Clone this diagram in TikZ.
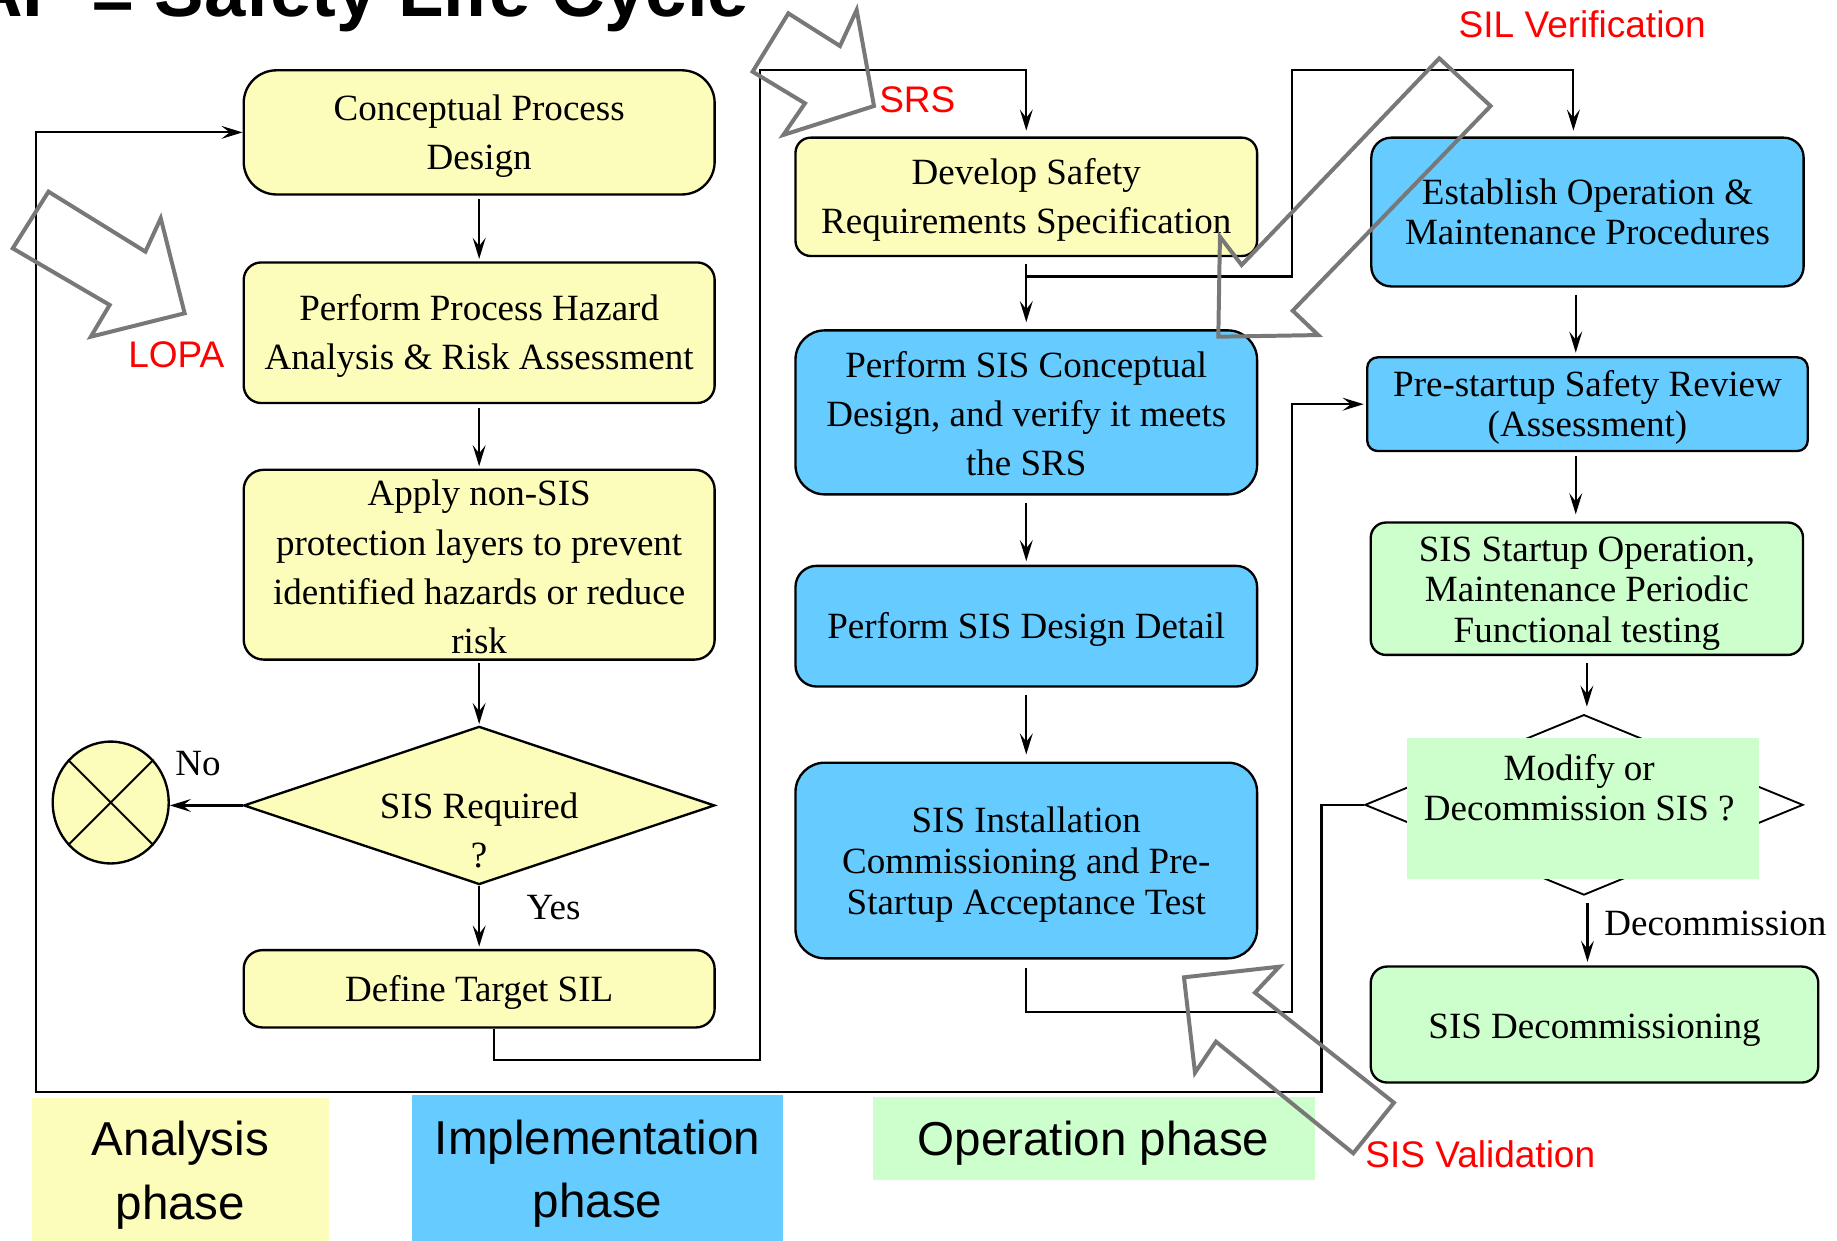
\documentclass[tikz,border=0pt]{standalone}
\usepackage{fontspec}
\setmainfont{Liberation Serif}
\newfontfamily\sansfont{Liberation Sans}
\usetikzlibrary{shapes.geometric,arrows.meta,calc}

\definecolor{phaseYellow}{RGB}{252,252,187}
\definecolor{phaseBlue}{RGB}{102,204,255}
\definecolor{phaseGreen}{RGB}{204,255,204}
\definecolor{hintGray}{RGB}{120,120,120}
\definecolor{hintRed}{RGB}{255,0,0}

% invisible rule that lowers the first line of a box text a little
\newcommand\boxstrut{\rule{0pt}{14pt}}
\newcommand\phasestrut{\rule{0pt}{19.8pt}}

\tikzset{
  box/.style={draw=black, line width=1pt, inner sep=0pt, align=center},
  txtA/.style={font=\fontsize{15.8pt}{21pt}\selectfont},
  txtB/.style={font=\fontsize{15.8pt}{17pt}\selectfont},
  arr/.style={line width=0.9pt, -{Stealth[length=9pt,width=5.5pt,inset=3.5pt]}},
  hint/.style={draw=hintGray, line width=1.7pt, line join=miter},
  redlbl/.style={font=\sansfont\fontsize{15.8pt}{18pt}\selectfont, text=hintRed, inner sep=0pt},
  phase/.style={inner sep=0pt, align=center, font=\sansfont\fontsize{20.3pt}{27.5pt}\selectfont},
  plain/.style={inner sep=0pt, font=\fontsize{15.8pt}{18pt}\selectfont}
}

\begin{document}
\begin{tikzpicture}[x=0.5pt,y=-0.5pt]
\useasboundingbox (0,0) rectangle (1568,1059);
\clip (0,0) rectangle (1568,1059);
\fill[white] (0,0) rectangle (1568,1059);

% title (runs off the top edge)
\node[anchor=base east, inner sep=0pt, font=\sansfont\bfseries\fontsize{31.7pt}{36pt}\selectfont] (title) at (640,14.5) {AP \raisebox{-4pt}{–} Safety Life Cycle};

% phase legend
\node[phase, fill=phaseYellow, minimum width=127pt, minimum height=61pt] (anaPh) at (154,998) {\phasestrut Analysis\\phase};
\node[phase, fill=phaseBlue, minimum width=158pt, minimum height=62.25pt, font=\sansfont\fontsize{20.3pt}{27pt}\selectfont] (impPh) at (510,996.75) {\phasestrut Implementation\\phase};
\node[phase, fill=phaseGreen, minimum width=188.5pt, minimum height=35.25pt] (opPh) at (933.5,971.75) {\rule{0pt}{18.8pt}Operation phase};

% analysis column
\node[box, txtA, fill=phaseYellow, rounded corners=14pt, minimum width=201pt, minimum height=53pt] (cpd) at (409,113) {\boxstrut Conceptual Process\\Design};
\node[box, txtA, fill=phaseYellow, rounded corners=7.5pt, minimum width=201pt, minimum height=60pt] (haz) at (409,284) {\boxstrut Perform Process Hazard\\Analysis \& Risk Assessment};
\node[box, txtA, fill=phaseYellow, rounded corners=8.5pt, minimum width=201pt, minimum height=81pt] (apl) at (409,482) {\rule{0pt}{13pt}Apply non-SIS\\protection layers to prevent\\identified hazards or reduce\\risk};
\node[diamond, draw=black, fill=phaseYellow, line width=1pt, inner sep=0pt, minimum width=201pt, minimum height=67.5pt] (req) at (409,687.5) {};
\node[txtA, align=center, inner sep=0pt] (reqtxt) at (409,708.5) {SIS Required\\?};
\node[ellipse, draw=black, fill=phaseYellow, line width=1pt, inner sep=0pt, minimum width=49.5pt, minimum height=52pt] (stop) at (94.5,685) {};
\draw[line width=0.8pt] (stop.45) -- (stop.-135) (stop.135) -- (stop.-45);
\node[box, txtA, fill=phaseYellow, rounded corners=8pt, minimum width=201pt, minimum height=33pt] (sil) at (409,844) {\boxstrut Define Target SIL};

% implementation column
\node[box, txtA, fill=phaseYellow, rounded corners=6.5pt, minimum width=197pt, minimum height=50.5pt] (srs) at (876,168) {\boxstrut Develop Safety\\Requirements Specification};
\node[box, txtA, fill=phaseBlue, rounded corners=12.5pt, minimum width=197pt, minimum height=70pt] (scd) at (876,352) {\rule{0pt}{12pt}Perform SIS Conceptual\\Design, and verify it meets\\the SRS};
\node[box, txtA, fill=phaseBlue, rounded corners=9pt, minimum width=197pt, minimum height=51.5pt] (sdd) at (876,534.5) {\boxstrut Perform SIS Design Detail};
\node[box, fill=phaseBlue, rounded corners=12.5pt, minimum width=197pt, minimum height=83.5pt, font=\fontsize{15.8pt}{17.5pt}\selectfont] (sit) at (876,734.5) {\rule{0pt}{14.5pt}SIS Installation\\Commissioning and Pre-\\Startup Acceptance Test};

% operation column
\node[box, txtB, fill=phaseBlue, rounded corners=8.5pt, minimum width=184.5pt, minimum height=63.5pt] (eom) at (1355,181) {Establish Operation \&\\Maintenance Procedures};
\node[box, txtB, fill=phaseBlue, rounded corners=4.5pt, minimum width=188pt, minimum height=40pt] (psr) at (1355,345) {\boxstrut Pre-startup Safety Review\\(Assessment)};
\node[box, fill=phaseGreen, rounded corners=6.5pt, minimum width=184.5pt, minimum height=56.5pt, font=\fontsize{15.8pt}{17.2pt}\selectfont] (sso) at (1354.5,502.5) {\rule{0pt}{14.5pt}SIS Startup Operation,\\Maintenance Periodic\\Functional testing};
\node[diamond, draw=black, fill=white, line width=0.8pt, inner sep=0pt, minimum width=187pt, minimum height=77pt] (mod) at (1352,687) {};
\node[fill=phaseGreen, inner sep=0pt, minimum width=150pt, minimum height=60pt] (modbg) at (1351,690) {};
\node[txtB, align=center, inner sep=0pt] (modtxt) at (1348,672.5) {Modify or\\Decommission SIS ?};
\node[box, txtA, fill=phaseGreen, rounded corners=7pt, minimum width=191pt, minimum height=49.5pt] (dcm) at (1361,874.5) {\rule{0pt}{15pt}SIS Decommissioning};

% routing points
\coordinate (jSilA) at (649,905);
\coordinate (jSilB) at (649,59.5);
\coordinate (brS) at (876,236);
\coordinate (brT) at (1103,59.5);
\coordinate (jIns) at (1103,863.5);
\coordinate (loopR) at (1128,932);
\coordinate (loopL) at (31,932);

% analysis flow
\draw[arr, shorten <=1.5pt, shorten >=1pt] (cpd) -- (haz);
\draw[arr, shorten <=1.5pt, shorten >=1pt] (haz) -- (apl);
\draw[arr, shorten <=1pt, shorten >=0.5pt] (apl) -- (req);
\draw[arr, shorten >=1pt] (req) -- (sil);
\draw[arr] (req.west) -- (req.west -| stop.east);
\node[plain] (noLbl) at (169,652) {No};
\node[plain] (yesLbl) at (472.5,775) {Yes};

% into the SRS
\draw[arr, shorten >=2.5pt] ([xshift=6.5pt]sil.south) |- (jSilA) -- (jSilB) -| (srs.north);

% implementation flow
\draw[arr, shorten <=3pt, shorten >=3pt] (srs) -- (scd);
\draw[arr, shorten >=2.5pt] (brS) -| (brT) -| ([xshift=-6pt]eom.north);
\draw[arr, shorten <=3pt, shorten >=1.5pt] (scd) -- (sdd);
\draw[arr, shorten <=3pt, shorten >=3pt] (sdd) -- (sit);
\draw[arr, shorten <=3.5pt, shorten >=1pt] (sit.south) |- (jIns) |- (psr.west);

% operation flow
\draw[arr, shorten <=3pt, shorten >=1.5pt] ([xshift=-5pt]eom.south) -- ([xshift=-5pt]psr.north);
\draw[arr, shorten <=1.5pt, shorten >=3pt] ([xshift=-5pt]psr.south) -- ([xshift=-4.75pt]sso.north);
\draw[arr, shorten <=3pt, shorten >=3pt] (sso.south) -- (sso.south |- mod.north);
\draw[arr, shorten <=3pt, shorten >=1.5pt] ([xshift=1.5pt]mod.south) -- ([xshift=-3pt]dcm.north);
\node[plain, anchor=west] (dcmLbl) at (1369,788) {Decommission};

% modification loop back to the start
\draw[arr] (mod.west) -| (loopR) -- (loopL) |- (cpd.west);

% hollow pointer arrows
\draw[hint] (41.4,163.6) -- (124.1,214.8) -- (137.2,186.3) -- (157.6,267.4) -- (77.5,287.4) -- (93.6,260.3) -- (10.9,212) -- cycle;
\draw[hint] (672.9,11.4) -- (717,39.3) -- (731.2,8.5) -- (746,90.5) -- (668.6,115.2) -- (687.1,88.2) -- (642.4,61.2) -- cycle;
\draw[hint] (1228.5,49.8) -- (1272.3,90.5) -- (1103.4,265.2) -- (1125.2,286) -- (1039.9,287.4) -- (1041.3,202) -- (1059.8,226.2) -- cycle;
\draw[hint] (1155.1,984.4) -- (1189.8,941.2) -- (1071.2,847.3) -- (1092,825.1) -- (1010.6,834.2) -- (1020,915.6) -- (1037.9,889.1) -- cycle;

% red captions
\node[redlbl] (lopa) at (150.5,303) {LOPA};
\node[redlbl] (srsLbl) at (783,85.4) {SRS};
\node[redlbl] (silVer) at (1350.5,21) {SIL Verification};
\node[redlbl] (sisVal) at (1263.5,985) {SIS Validation};
\end{tikzpicture}
\end{document}
